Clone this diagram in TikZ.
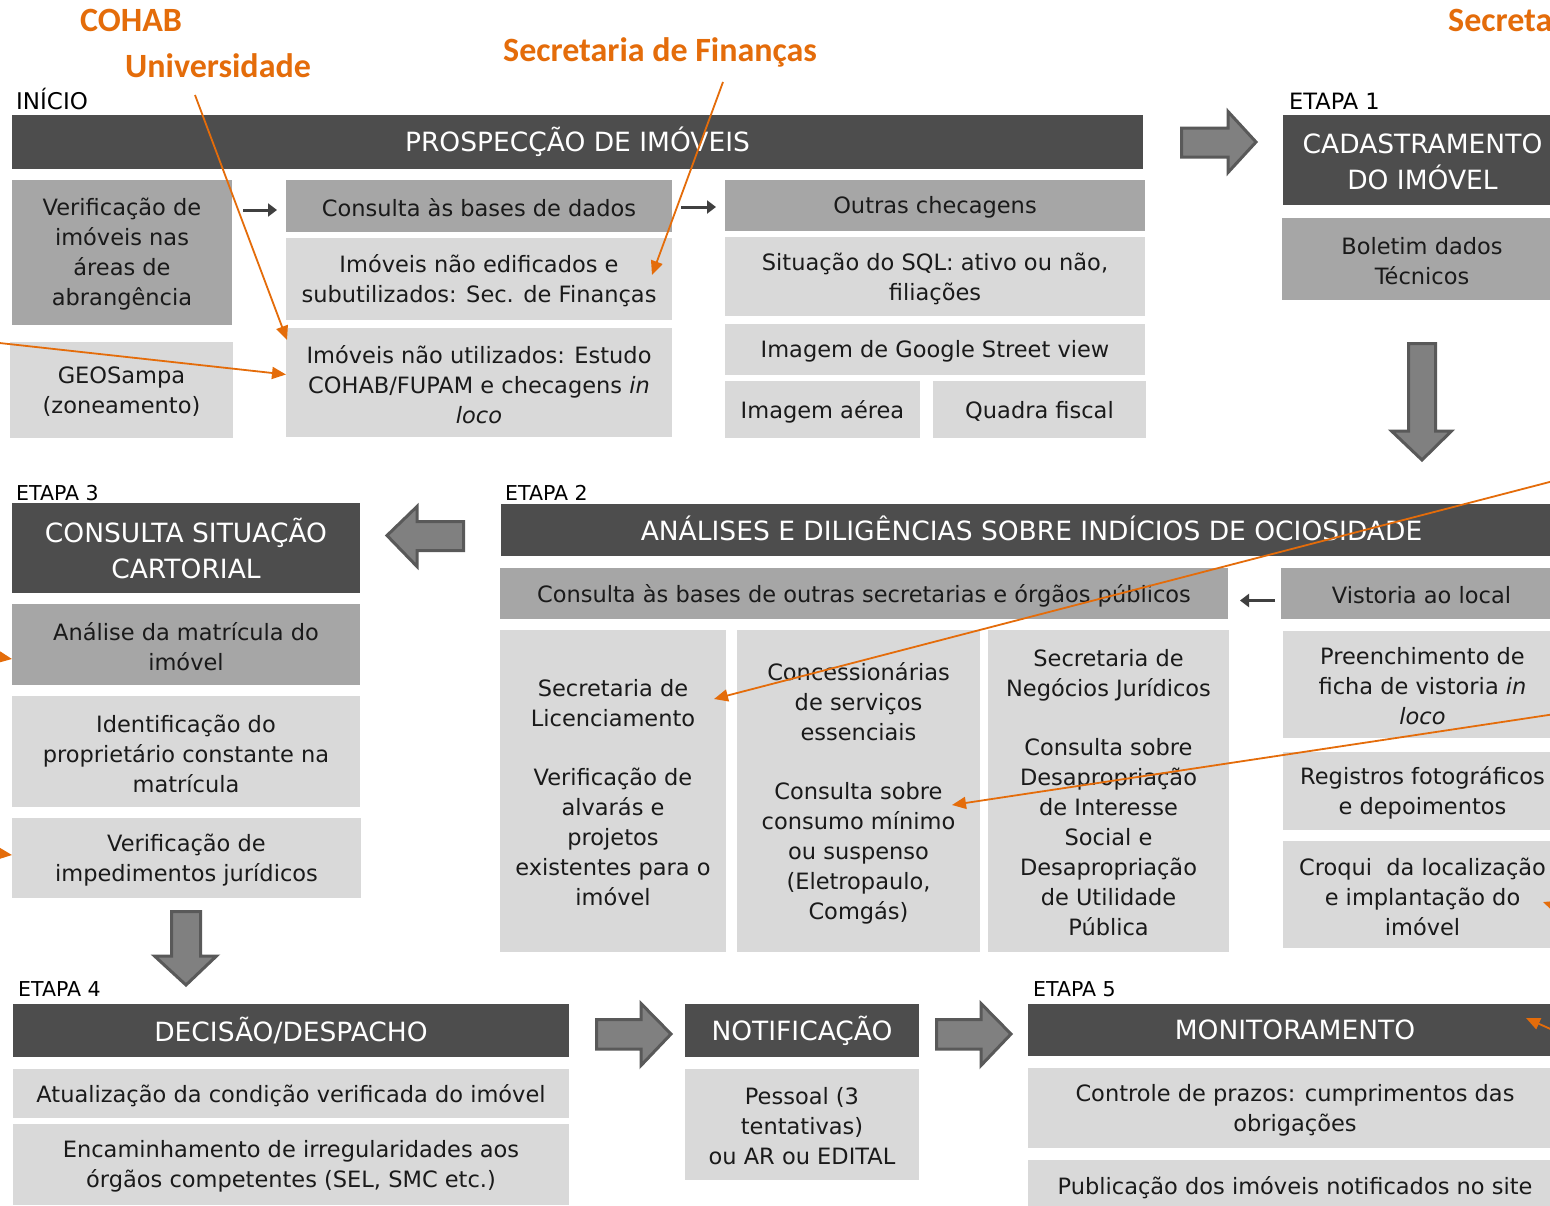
\documentclass[tikz,border=0pt]{standalone}
\usepackage{fontspec}
\setmainfont{DejaVu Sans}
\newfontfamily\orfont{Carlito}
\usetikzlibrary{arrows.meta}
\definecolor{dark}{HTML}{4D4D4D}
\definecolor{mid}{HTML}{A6A6A6}
\definecolor{light}{HTML}{D9D9D9}
\definecolor{orng}{HTML}{E46C0A}
\definecolor{arrfill}{HTML}{808080}
\definecolor{arrline}{HTML}{595959}
\definecolor{txt}{HTML}{1A1A1A}
\definecolor{smalla}{HTML}{404040}
\newcommand\bx[7]{%
  \node[#6, minimum width={(#4-#2)*1pt}, minimum height={(#5-#3)*1pt}] (#1) at ({(#2+#4)/2},{(#3+#5)/2}) {};%
  \node[#6, fill=none, tdy] (#1t) at (#1.center) {#7};}
\tikzset{
  tdy/.style={},
  base/.style={inner sep=0pt, outer sep=0pt, align=center, font=\fontsize{22.5}{30}\selectfont, text=txt},
  hdr/.style={base, fill=dark, text=white, font=\fontsize{26.5}{36}\selectfont},
  midbox/.style={base, fill=mid, tdy/.style={yshift=-2pt}},
  litebox/.style={base, fill=light, tdy/.style={yshift=-2pt}},
  stagelbl/.style={inner sep=0pt, anchor=base west, font=\fontsize{20.5}{24}\selectfont, text=black},
  orlbl/.style={inner sep=0pt, anchor=base west, font=\orfont\bfseries\fontsize{34}{40}\selectfont, text=orng},
  orarr/.style={draw=orng, line width=1.8pt, -{Triangle[length=14pt,width=12pt]}},
  smallarr/.style={draw=smalla, line width=3pt, -{Triangle[length=9pt,width=13pt]}},
  blockarr/.style={fill=arrfill, draw=arrline, line width=3pt, line join=miter}
}
\begin{document}
\begin{tikzpicture}[x=1pt,y=-1pt]
\useasboundingbox (0,0) rectangle (1550,1205);
\fill[white] (0,0) rectangle (1550,1205);
\clip (0,0) rectangle (1550,1205);

% orange labels
\node[orlbl] (cohab) at (80,31) {COHAB};
\node[orlbl] (univ) at (125,77) {Universidade};
\node[orlbl] (secfin) at (503,61) {Secretaria de Finanças};
\node[orlbl] (secr) at (1448,31) {Secretaria};

% stage labels
\node[stagelbl, font=\fontsize{23}{24}\selectfont] (inicio) at (16,109) {INÍCIO};
\node[stagelbl, font=\fontsize{22.5}{24}\selectfont] (et1) at (1289,109) {ETAPA 1};
\node[stagelbl] (et3) at (16,500) {ETAPA 3};
\node[stagelbl] (et2) at (505,500) {ETAPA 2};
\node[stagelbl] (et4) at (18,996) {ETAPA 4};
\node[stagelbl] (et5) at (1033,996) {ETAPA 5};

% INICIO
\bx{prosp}{12}{115}{1143}{169}{hdr}{PROSPECÇÃO DE IMÓVEIS}
\bx{verif}{12}{180}{232}{325}{midbox}{Verificação de\\imóveis nas\\áreas de\\abrangência}
\bx{geo}{10}{342}{233}{438}{litebox}{GEOSampa\\(zoneamento)}
\bx{consulta}{286}{180}{672}{232}{midbox}{Consulta às bases de dados}
\bx{naoedif}{286}{238}{672}{320}{litebox}{Imóveis não edificados e\\subutilizados: Sec. de Finanças}
\bx{naoutil}{286}{328}{672}{437}{litebox}{Imóveis não utilizados: Estudo\\COHAB/FUPAM e checagens \textit{in}\\\textit{loco}}
\bx{outras}{725}{180}{1145}{231}{midbox}{Outras checagens}
\bx{sql}{725}{237}{1145}{316}{litebox}{Situação do SQL: ativo ou não,\\filiações}
\bx{street}{725}{324}{1145}{375}{litebox}{Imagem de Google Street view}
\bx{aerea}{725}{381}{920}{438}{litebox}{Imagem aérea}
\bx{quadra}{933}{381}{1146}{438}{litebox}{Quadra fiscal}

% ETAPA 1
\bx{cad}{1283}{115}{1562}{205}{hdr, tdy/.style={yshift=-2pt}}{CADASTRAMENTO\\DO IMÓVEL}
\bx{bol}{1282}{218}{1562}{300}{midbox}{Boletim dados\\Técnicos}

% ETAPA 3
\bx{consit}{12}{503}{360}{593}{hdr}{CONSULTA SITUAÇÃO\\CARTORIAL}
\bx{analise}{12}{604}{360}{685}{midbox}{Análise da matrícula do\\imóvel}
\bx{ident}{12}{696}{360}{807}{litebox}{Identificação do\\proprietário constante na\\matrícula}
\bx{imped}{12}{818}{361}{898}{litebox}{Verificação de\\impedimentos jurídicos}

% ETAPA 2
\bx{analises}{501}{504}{1562}{556}{hdr, tdy/.style={yshift=1.5pt}}{ANÁLISES E DILIGÊNCIAS SOBRE INDÍCIOS DE OCIOSIDADE}
\bx{outrasec}{500}{568}{1228}{619}{midbox}{Consulta às bases de outras secretarias e órgãos públicos}
\bx{vistoria}{1281}{568}{1562}{619}{midbox}{Vistoria ao local}
\bx{lic}{500}{630}{726}{952}{litebox}{Secretaria de\\Licenciamento\\[29pt]Verificação de\\alvarás e\\projetos\\existentes para o\\imóvel}
\bx{conc}{737}{630}{980}{952}{litebox}{Concessionárias\\de serviços\\essenciais\\[29pt]Consulta sobre\\consumo mínimo\\ou suspenso\\(Eletropaulo,\\Comgás)}
\bx{snj}{988}{630}{1229}{952}{litebox}{Secretaria de\\Negócios Jurídicos\\[29pt]Consulta sobre\\Desapropriação\\de Interesse\\Social e\\Desapropriação\\de Utilidade\\Pública}
\bx{preench}{1283}{631}{1562}{738}{litebox}{Preenchimento de\\ficha de vistoria \textit{in}\\\textit{loco}}
\bx{reg}{1283}{752}{1562}{830}{litebox}{Registros fotográficos\\e depoimentos}
\bx{croqui}{1283}{841}{1562}{948}{litebox}{Croqui\ \ da localização\\e implantação do\\imóvel}

% ETAPA 4
\bx{decisao}{13}{1004}{569}{1057}{hdr}{DECISÃO/DESPACHO}
\bx{atual}{13}{1069}{569}{1118}{litebox}{Atualização da condição verificada do imóvel}
\bx{encam}{13}{1124}{569}{1205}{litebox}{Encaminhamento de irregularidades aos\\órgãos competentes (SEL, SMC etc.)}
\bx{notif}{685}{1004}{919}{1057}{hdr}{NOTIFICAÇÃO}
\bx{pessoal}{685}{1069}{919}{1180}{litebox}{Pessoal (3\\tentativas)\\ou AR ou EDITAL}

% ETAPA 5
\bx{monit}{1028}{1004}{1562}{1056}{hdr}{MONITORAMENTO}
\bx{controle}{1028}{1068}{1562}{1148}{litebox}{Controle de prazos: cumprimentos das\\obrigações}
\bx{public}{1028}{1160}{1562}{1212}{litebox}{Publicação dos imóveis notificados no site}

% block arrows
\draw[blockarr] (1181.5,128) -- (1228,128) -- (1228,111.5) -- (1256,142) -- (1228,172.5) -- (1228,157) -- (1181.5,157) -- cycle;
\draw[blockarr] (1408.5,343.5) -- (1435.5,343.5) -- (1435.5,431) -- (1451.5,431) -- (1422,460) -- (1391.5,431) -- (1408.5,431) -- cycle;
\draw[blockarr] (463.5,521.5) -- (417,521.5) -- (417,506.5) -- (387,535.5) -- (417,566.5) -- (417,550.5) -- (463.5,550.5) -- cycle;
\draw[blockarr] (171.5,911.5) -- (200.5,911.5) -- (200.5,956) -- (216.5,956) -- (186,985) -- (154.5,956) -- (171.5,956) -- cycle;
\draw[blockarr] (596.5,1019.5) -- (641,1019.5) -- (641,1003.5) -- (671,1034) -- (641,1065.5) -- (641,1049) -- (596.5,1049) -- cycle;
\draw[blockarr] (936.5,1019.5) -- (981,1019.5) -- (981,1003.5) -- (1011,1034) -- (981,1065.5) -- (981,1049) -- (936.5,1049) -- cycle;

% small arrows
\draw[smallarr, shorten <=11pt, shorten >=9pt] ([yshift=-4pt]verif.east |- consulta.west) -- ([yshift=-4pt]consulta.west);
\draw[smallarr, shorten <=9pt, shorten >=9pt] ([yshift=-1.5pt]consulta.east |- outras.west) -- ([yshift=-1.5pt]outras.west);
\draw[smallarr, shorten <=6pt, shorten >=12pt] ([yshift=-7pt]vistoria.west) -- ([yshift=-7pt]outrasec.east |- vistoria.west);

% orange connectors
\coordinate (u1) at (195,95);
\coordinate (g1) at (-5,342.5);
\coordinate (f1) at (723,82);
\coordinate (s1) at (1565,478);
\coordinate (c1) at (1565,712.5);
\coordinate (k1) at (1580,915);
\coordinate (m1) at (1575,1040);
\coordinate (l1) at (-40,651);
\coordinate (l2) at (-40,849);
\draw[orarr] (u1) -- ([xshift=1pt,yshift=-12pt]naoutil.north west);
\draw[orarr] (g1) -- ([yshift=8pt]naoutil.west);
\draw[orarr] (f1) -- ([xshift=-20pt,yshift=4pt]naoedif.east);
\draw[orarr] (s1) -- ([xshift=-12pt,yshift=92pt]lic.east);
\draw[orarr] (c1) -- ([xshift=-28pt,yshift=-14pt]conc.east);
\draw[orarr] (k1) -- ([xshift=-19pt,yshift=-7.5pt]croqui.east);
\draw[orarr] (m1) -- ([xshift=-36pt,yshift=12pt]monit.east);
\draw[orarr] (l1) -- ([yshift=-14.5pt]analise.west);
\draw[orarr] (l2) -- ([yshift=3pt]imped.west);
\end{tikzpicture}
\end{document}
